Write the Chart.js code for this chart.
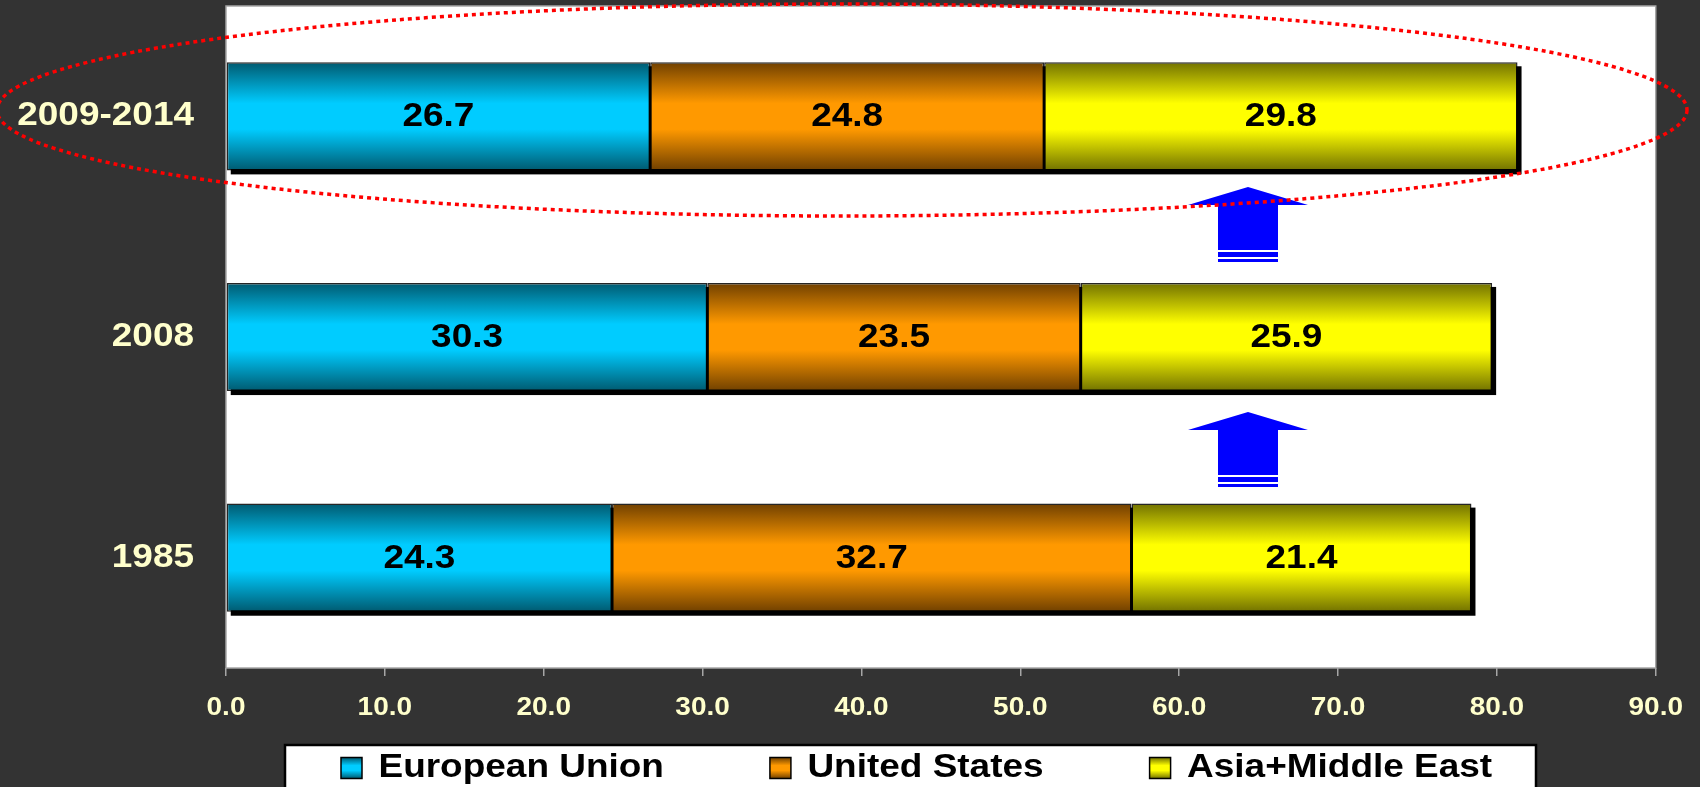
<!DOCTYPE html>
<html>
<head>
<meta charset="utf-8">
<script src="https://cdn.jsdelivr.net/npm/chart.js@4.4.1/dist/chart.umd.min.js"></script>
<style>
  html, body { margin: 0; padding: 0; background: #333333; overflow: hidden; }
  canvas { display: block; }
</style>
</head>
<body>
<canvas id="c" width="1700" height="787"></canvas>
<script>
// ---------------- data ----------------
const CATEGORIES = ['2009-2014', '2008', '1985'];
const SERIES_NAMES = ['European Union', 'United States', 'Asia+Middle East'];
const EU_VALUES = [26.7, 30.3, 24.3];
const US_VALUES = [24.8, 23.5, 32.7];
const ASIA_VALUES = [29.8, 25.9, 21.4];
const X_TICK_LABELS = ['0.0', '10.0', '20.0', '30.0', '40.0', '50.0', '60.0', '70.0', '80.0', '90.0'];
const X_MIN = 0, X_MAX = 90, X_STEP = 10;

// ---------------- styles ----------------
const FONT = "'Liberation Sans', Arial, Helvetica, sans-serif";
const PALETTE = [
  { dark: '#005a70', bright: '#00ccff' },
  { dark: '#704000', bright: '#ff9900' },
  { dark: '#727200', bright: '#ffff00' }
];
const CAT_PCT = 0.49;
const TEXT_STRETCH = 1.12;
const LEGEND_TEXT_Y = 768;
const LEGEND_PAD = 106;

function gradStops(g, p) {
  g.addColorStop(0, p.dark);
  g.addColorStop(0.38, p.bright);
  g.addColorStop(0.62, p.bright);
  g.addColorStop(1, p.dark);
  return g;
}

function barFill(k) {
  return function (context) {
    const chart = context.chart;
    if (!chart.chartArea || context.type !== 'data') return PALETTE[k].bright;
    const ys = chart.scales.y;
    const c = ys.getPixelForValue(context.dataIndex);
    const h = (ys.height / CATEGORIES.length) * CAT_PCT;
    return gradStops(chart.ctx.createLinearGradient(0, c - h / 2, 0, c + h / 2), PALETTE[k]);
  };
}

// horizontally stretched text like the original
const canvas = document.getElementById('c');
const ctx2d = canvas.getContext('2d');
(function patch(ctx, sx) {
  const fill = ctx.fillText;
  ctx.fillText = function (t, x, y, mw) {
    this.save();
    this.translate(x, y);
    this.scale(sx, 1);
    if (mw === undefined || mw === null) fill.call(this, t, 0, 0);
    else fill.call(this, t, 0, 0, mw / sx);
    this.restore();
  };
  const measure = ctx.measureText;
  ctx.measureText = function (t) {
    const m = measure.call(this, t);
    return {
      width: m.width * sx,
      actualBoundingBoxLeft: m.actualBoundingBoxLeft * sx,
      actualBoundingBoxRight: m.actualBoundingBoxRight * sx,
      actualBoundingBoxAscent: m.actualBoundingBoxAscent,
      actualBoundingBoxDescent: m.actualBoundingBoxDescent,
      fontBoundingBoxAscent: m.fontBoundingBoxAscent,
      fontBoundingBoxDescent: m.fontBoundingBoxDescent
    };
  };
})(ctx2d, TEXT_STRETCH);

const ANNOT_ARROWS = [{ cx: 1248, tip: 187 }, { cx: 1248, tip: 412 }];

function drawArrow(ctx, cx, tip) {
  ctx.fillStyle = '#0000ff';
  ctx.beginPath();
  ctx.moveTo(cx, tip);
  ctx.lineTo(cx + 60, tip + 18);
  ctx.lineTo(cx + 30, tip + 18);
  ctx.lineTo(cx + 30, tip + 63);
  ctx.lineTo(cx - 30, tip + 63);
  ctx.lineTo(cx - 30, tip + 18);
  ctx.lineTo(cx - 60, tip + 18);
  ctx.closePath();
  ctx.fill();
  ctx.fillRect(cx - 30, tip + 65, 60, 5);
  ctx.fillRect(cx - 30, tip + 72, 60, 3);
}

const deco = {
  id: 'deco',
  beforeDraw(chart) {
    const { ctx, chartArea: a } = chart;
    ctx.save();
    ctx.fillStyle = '#333333';
    ctx.fillRect(0, 0, chart.width, chart.height);
    ctx.fillStyle = '#ffffff';
    ctx.fillRect(a.left, a.top, a.right - a.left, a.bottom - a.top);
    ctx.strokeStyle = '#a6a6a6';
    ctx.lineWidth = 1.5;
    ctx.strokeRect(a.left, a.top, a.right - a.left, a.bottom - a.top);
    // legend frame
    ctx.fillStyle = '#ffffff';
    ctx.fillRect(285, 745, 1251, 60);
    ctx.strokeStyle = '#000000';
    ctx.lineWidth = 2.5;
    ctx.strokeRect(285, 745, 1251, 60);
    ctx.restore();
    const lg = chart.legend;
    const fs = 33;
    lg.left = 341 - LEGEND_PAD;
    lg.right = chart.width;
    lg.top = LEGEND_TEXT_Y - fs / 2 - LEGEND_PAD;
    lg.bottom = chart.height;
  },
  beforeDatasetsDraw(chart) {
    const ctx = chart.ctx;
    const metas = chart.data.datasets.map((d, i) => chart.getDatasetMeta(i));
    ctx.save();
    ctx.fillStyle = '#000000';
    CATEGORIES.forEach((_, j) => {
      const first = metas[0].data[j];
      const last = metas[metas.length - 1].data[j];
      const x0 = first.base;
      const x1 = last.x;
      ctx.fillRect(x0 + 4, first.y - first.height / 2 + 4, x1 - x0, first.height);
    });
    ctx.restore();
  },
  afterDatasetsDraw(chart) {
    const ctx = chart.ctx;
    ctx.save();
    ctx.fillStyle = '#000000';
    ctx.font = 'bold 33px ' + FONT;
    ctx.textAlign = 'center';
    ctx.textBaseline = 'middle';
    chart.data.datasets.forEach((ds, i) => {
      chart.getDatasetMeta(i).data.forEach((el, j) => {
        ctx.fillText(ds.data[j].toFixed(1), (el.x + el.base) / 2, el.y + 1);
      });
    });
    ctx.restore();
  },
  afterDraw(chart) {
    const ctx = chart.ctx;
    ctx.save();
    ANNOT_ARROWS.forEach(a => drawArrow(ctx, a.cx, a.tip));
    ctx.strokeStyle = '#ff0000';
    ctx.lineWidth = 3.5;
    ctx.setLineDash([4, 4]);
    ctx.beginPath();
    ctx.ellipse(842, 110, 845, 106, 0, 0, Math.PI * 2);
    ctx.stroke();
    ctx.restore();
  }
};

Chart.defaults.font.family = FONT;

const datasets = [EU_VALUES, US_VALUES, ASIA_VALUES].map((vals, k) => ({
  label: SERIES_NAMES[k],
  data: vals,
  backgroundColor: barFill(k),
  borderColor: 'rgba(0,0,0,0.85)',
  borderWidth: 1.5,
  borderSkipped: false,
  categoryPercentage: CAT_PCT,
  barPercentage: 1.0
}));

new Chart(ctx2d, {
  type: 'bar',
  data: { labels: CATEGORIES, datasets },
  options: {
    indexAxis: 'y',
    responsive: false,
    animation: false,
    events: [],
    layout: { padding: { top: 6, right: 41, bottom: 0, left: 0 } },
    scales: {
      x: {
        stacked: true,
        min: X_MIN, max: X_MAX,
        border: { display: false },
        grid: { display: true, drawOnChartArea: false, drawTicks: true, tickLength: 8, color: '#a6a6a6', lineWidth: 1.5 },
        ticks: {
          stepSize: X_STEP, autoSkip: false, maxRotation: 0, padding: 17,
          color: '#ffffcc', font: { size: 25, weight: 'bold' },
          callback: (v, i) => X_TICK_LABELS[i]
        },
        afterFit: s => { s.height = 60; }
      },
      y: {
        stacked: true,
        border: { display: false },
        grid: { display: false, drawTicks: false },
        ticks: { padding: 32, color: '#ffffcc', font: { size: 33, weight: 'bold' } },
        afterFit: s => { s.width = 226; s.paddingTop = 0; s.paddingBottom = 0; }
      }
    },
    plugins: {
      tooltip: { enabled: false },
      legend: {
        position: 'bottom',
        align: 'start',
        maxHeight: 59,
        labels: {
          padding: LEGEND_PAD,
          boxWidth: 21,
          boxHeight: 21,
          color: '#000000',
          font: { size: 33, weight: 'bold' },
          generateLabels(chart) {
            const items = Chart.defaults.plugins.legend.labels.generateLabels(chart);
            const top = LEGEND_TEXT_Y - 33 / 2 + 6;
            items.forEach((it, i) => {
              it.fillStyle = gradStops(chart.ctx.createLinearGradient(0, top, 0, top + 21), PALETTE[i]);
              it.strokeStyle = '#000000';
              it.lineWidth = 1.5;
            });
            return items;
          }
        }
      }
    }
  },
  plugins: [deco]
});
</script>
</body>
</html>
